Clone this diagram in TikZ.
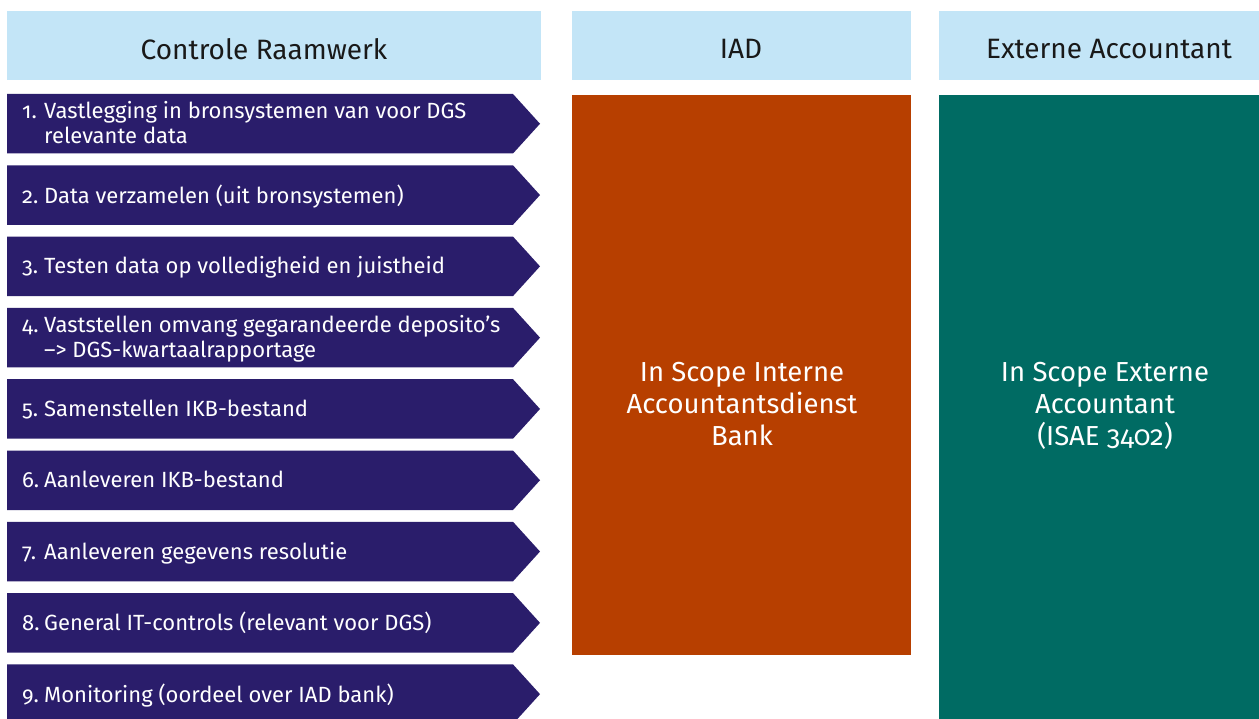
\documentclass[tikz,border=0pt]{standalone}
\usepackage{fontspec}
\setmainfont{Fira Sans}[Numbers=OldStyle]
\definecolor{hdrblue}{HTML}{C3E5F7}
\definecolor{navy}{HTML}{2A1D6B}
\definecolor{iadorange}{HTML}{B73F00}
\definecolor{extteal}{HTML}{006B63}
\tikzset{
  hdrtext/.style={text=black!90, font=\fontsize{28}{32}\selectfont, inner sep=0pt},
  chevtext/.style={text=white, font=\fontsize{22}{25}\selectfont, inner sep=0pt, anchor=west, align=left},
  bigtext/.style={text=white, font=\fontsize{27.5}{32}\selectfont, inner sep=0pt, align=center},
}
\newcommand{\chevlines}[2]{\begin{tabular}{@{}p{22pt}@{}l@{}}#1.&#2\end{tabular}}
\begin{document}
\begin{tikzpicture}[x=1pt,y=-1pt]
\useasboundingbox (0,0) rectangle (1259,719);
\clip (0,0) rectangle (1259,719);
% headers
\fill[hdrblue] (7,11) rectangle (541,80);
\fill[hdrblue] (572,11) rectangle (911,80);
\fill[hdrblue] (939,11) rectangle (1279,80);
\node[hdrtext] (h1) at (264,49) {Controle Raamwerk};
\node[hdrtext] (h2) at (741,49) {IAD};
\node[hdrtext] (h3) at (1109,49) {Externe Accountant};
% columns
\fill[iadorange] (572,95) rectangle (911,655);
\fill[extteal] (939,95) rectangle (1279,719);
\node[bigtext] (iad) at (742,404) {In Scope Interne\\Accountantsdienst\\Bank};
\node[bigtext] (ext) at (1105,406) {In Scope Externe\\Accountant\\(ISAE 3402)};
% chevrons
\foreach \i/\txt in {
 1/{Vastlegging in bronsystemen van voor DGS\\&relevante data},
 2/{Data verzamelen (uit bronsystemen)},
 3/{Testen data op volledigheid en juistheid},
 4/{Vaststellen omvang gegarandeerde deposito’s\\&–> DGS-kwartaalrapportage},
 5/{Samenstellen IKB-bestand},
 6/{Aanleveren IKB-bestand},
 7/{Aanleveren gegevens resolutie},
 8/{General IT-controls (relevant voor DGS)},
 9/{Monitoring (oordeel over IAD bank)}}{
  \pgfmathsetmacro{\rtop}{94+71.3*(\i-1)}
  \pgfmathsetmacro{\rbot}{\rtop+59.5}
  \pgfmathsetmacro{\rmid}{\rtop+29.75}
  \fill[navy] (7,\rtop) -- (513,\rtop) -- (540,\rmid) -- (513,\rbot) -- (7,\rbot) -- cycle;
  \node[chevtext] (t\i) at (22,\rmid+2.5) {\chevlines{\i}{\txt}};
}
\end{tikzpicture}
\end{document}
